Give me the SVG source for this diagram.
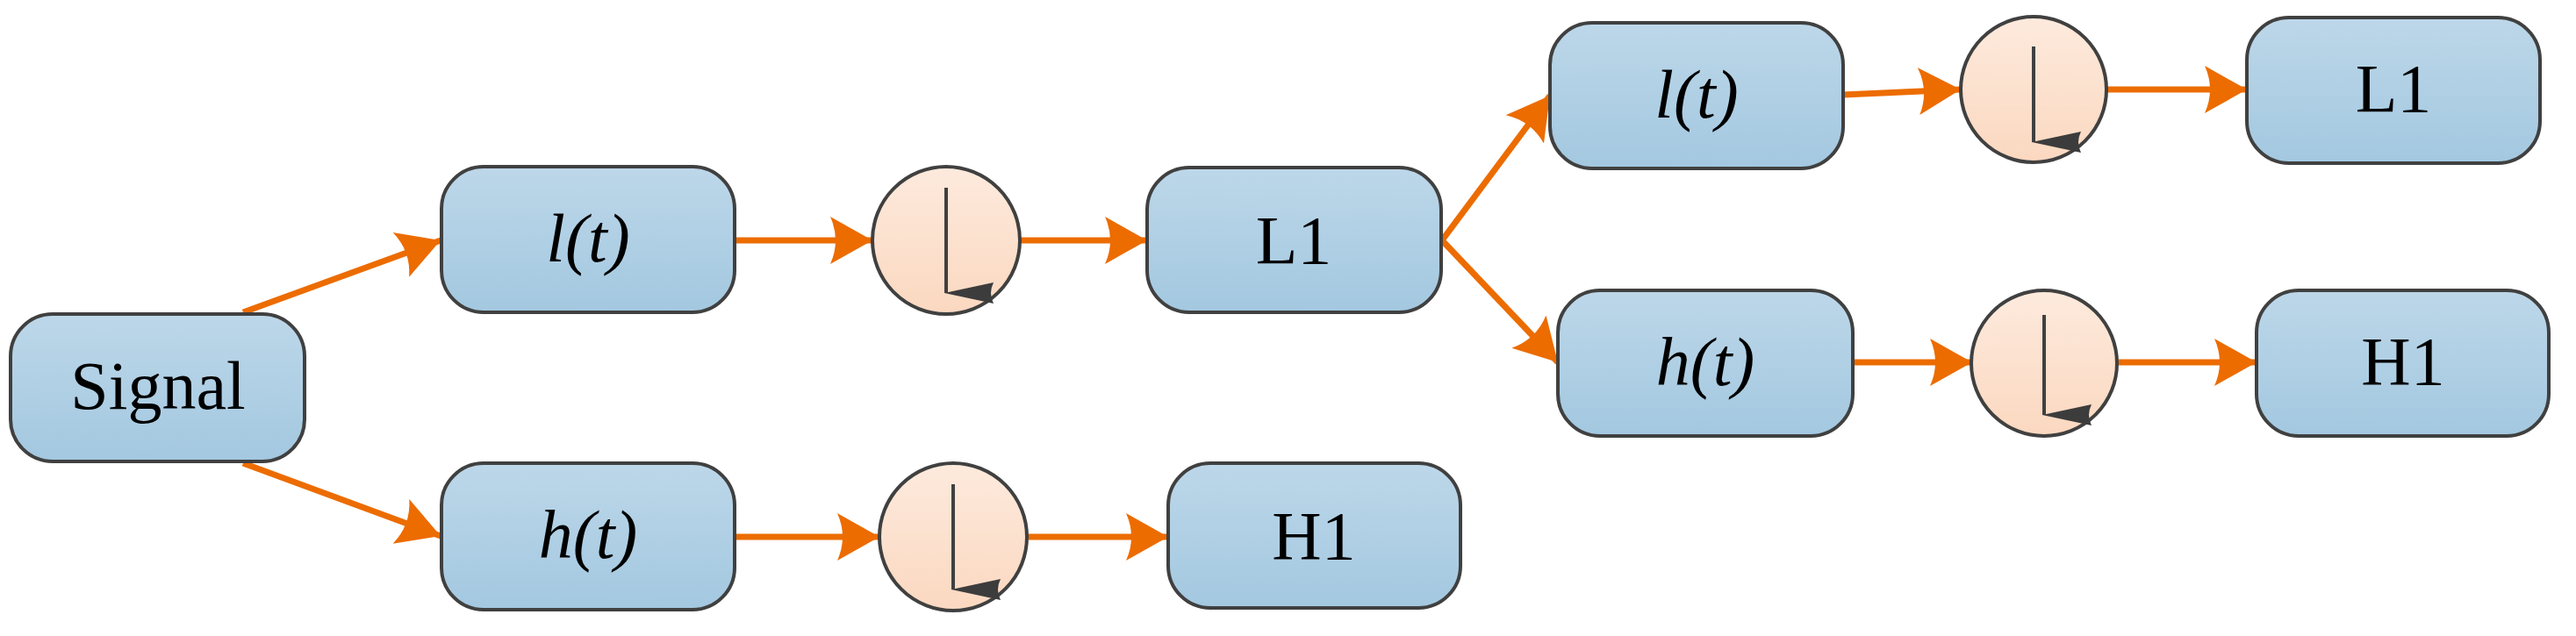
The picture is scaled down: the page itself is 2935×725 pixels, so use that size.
<svg xmlns="http://www.w3.org/2000/svg" width="2935" height="725" viewBox="0 0 2935 725">
<defs>
<linearGradient id="gb" x1="0" y1="0" x2="0" y2="1"><stop offset="0" stop-color="#bdd7e9"/><stop offset="1" stop-color="#a3c8e0"/></linearGradient>
<linearGradient id="go" x1="0" y1="0" x2="0" y2="1"><stop offset="0" stop-color="#fdeadd"/><stop offset="1" stop-color="#fbd8c0"/></linearGradient>
<marker id="ah" markerUnits="userSpaceOnUse" markerWidth="50" markerHeight="60" viewBox="0 0 50 60" refX="48" refY="30" orient="auto"><path d="M0,3 L48,30 L0,57 Q12,30 0,3 Z" fill="#ec6c00"/></marker>
<marker id="dh" markerUnits="userSpaceOnUse" markerWidth="24" markerHeight="56" viewBox="0 0 24 56" refX="12" refY="54" orient="auto-start-reverse"><path d="M0,0 Q12,6 24,0 L12,56 Z" fill="#3c3c3c"/></marker>
</defs>
<style>
.box{fill:url(#gb);stroke:#404040;stroke-width:4}
.dn{fill:url(#go);stroke:#404040;stroke-width:4}
.ar{stroke:#404040;stroke-width:4;marker-end:url(#dh)}
.t{font-family:"Liberation Serif",serif;font-size:78px;fill:#000;text-anchor:middle}
.i{font-style:italic}
.c{stroke:#ec6c00;stroke-width:7;fill:none;marker-end:url(#ah)}
</style>
<g id="connectors">
<line class="c" x1="277" y1="356" x2="502" y2="274"/>
<line class="c" x1="277" y1="528" x2="502" y2="611"/>
<line class="c" x1="837" y1="274" x2="994" y2="274"/>
<line class="c" x1="1162" y1="274" x2="1307" y2="274"/>
<line class="c" x1="837" y1="612" x2="1002" y2="612"/>
<line class="c" x1="1170" y1="612" x2="1331" y2="612"/>
<line class="c" x1="1643" y1="274" x2="1766" y2="109"/>
<line class="c" x1="1643" y1="274" x2="1775" y2="413"/>
<line class="c" x1="2100" y1="108" x2="2234" y2="102"/>
<line class="c" x1="2400" y1="102" x2="2560" y2="102"/>
<line class="c" x1="2111" y1="413" x2="2247" y2="413"/>
<line class="c" x1="2411" y1="413" x2="2571" y2="413"/>
</g>
<g id="signal"><rect class="box" x="12" y="358" width="335" height="168" rx="48"/><text class="t" x="180" y="466">Signal</text></g>
<g id="l1f"><rect class="box" x="503" y="190" width="334" height="166" rx="48"/><text class="t i" x="670" y="298">l(t)</text></g>
<g id="d1"><ellipse class="dn" cx="1078" cy="274" rx="84" ry="84"/><line class="ar" x1="1078" y1="214" x2="1078" y2="334"/></g>
<g id="L1a"><rect class="box" x="1307" y="191" width="335" height="165" rx="48"/><text class="t" x="1474" y="300">L1</text></g>
<g id="h1f"><rect class="box" x="503" y="528" width="334" height="167" rx="48"/><text class="t i" x="670" y="636">h(t)</text></g>
<g id="d2"><ellipse class="dn" cx="1086" cy="612" rx="84" ry="84"/><line class="ar" x1="1086" y1="552" x2="1086" y2="672"/></g>
<g id="H1a"><rect class="box" x="1331" y="528" width="333" height="165" rx="48"/><text class="t" x="1497" y="637">H1</text></g>
<g id="l2f"><rect class="box" x="1766" y="26" width="334" height="166" rx="48"/><text class="t i" x="1933" y="134">l(t)</text></g>
<g id="d3"><ellipse class="dn" cx="2317" cy="102" rx="83" ry="83"/><line class="ar" x1="2317" y1="53" x2="2317" y2="162"/></g>
<g id="L1b"><rect class="box" x="2560" y="20" width="334" height="166" rx="48"/><text class="t" x="2727" y="127">L1</text></g>
<g id="h2f"><rect class="box" x="1775" y="331" width="336" height="166" rx="48"/><text class="t i" x="1943" y="439">h(t)</text></g>
<g id="d4"><ellipse class="dn" cx="2329" cy="414" rx="83" ry="83"/><line class="ar" x1="2329" y1="359" x2="2329" y2="473"/></g>
<g id="H1b"><rect class="box" x="2571" y="331" width="333" height="166" rx="48"/><text class="t" x="2738" y="438">H1</text></g>
</svg>
